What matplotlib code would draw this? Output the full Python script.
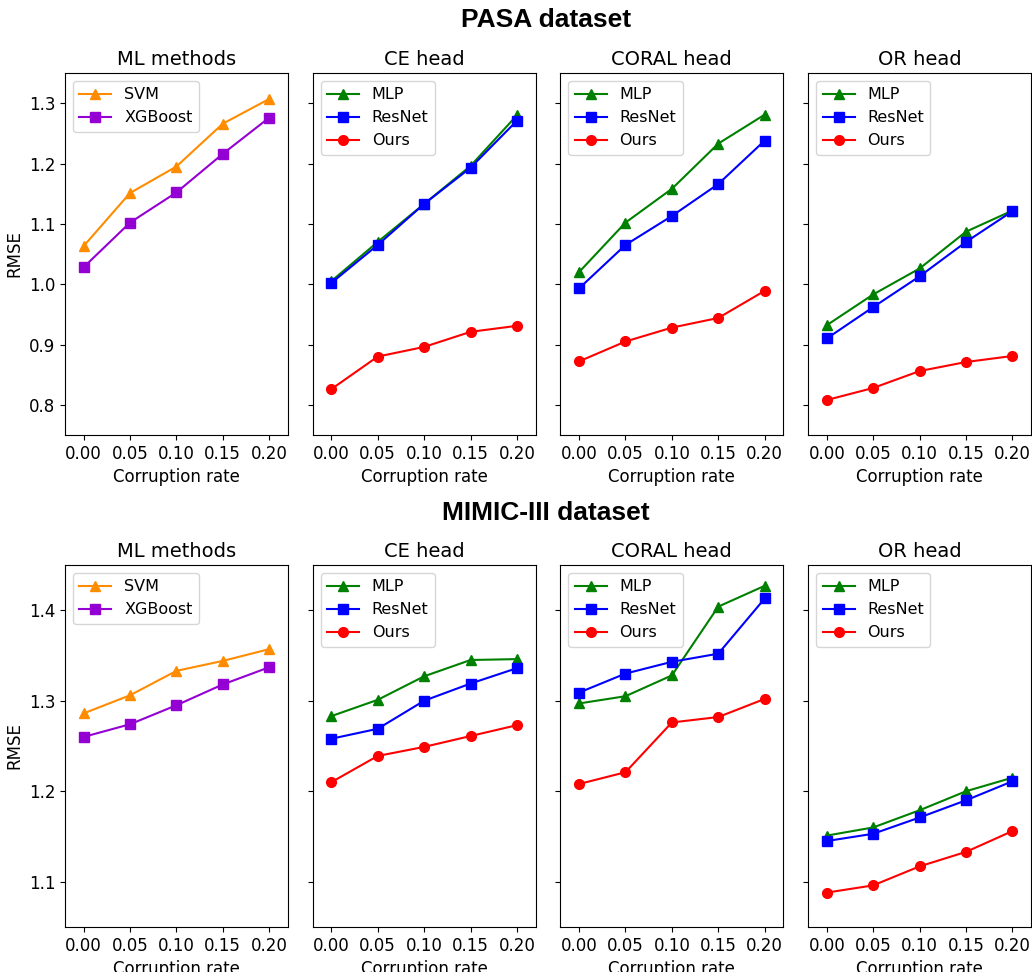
import matplotlib
matplotlib.use('Agg')
import matplotlib.pyplot as plt

rates = [0.00, 0.05, 0.10, 0.15, 0.20]
panel_titles = ['ML methods', 'CE head', 'CORAL head', 'OR head']

# PASA dataset
pasa_svm = [1.063, 1.151, 1.195, 1.266, 1.307]
pasa_xgb = [1.028, 1.102, 1.152, 1.216, 1.276]
pasa_ce_mlp = [1.005, 1.070, 1.133, 1.196, 1.280]
pasa_ce_resnet = [1.002, 1.065, 1.133, 1.193, 1.271]
pasa_ce_ours = [0.826, 0.880, 0.896, 0.921, 0.931]
pasa_coral_mlp = [1.020, 1.102, 1.158, 1.233, 1.281]
pasa_coral_resnet = [0.993, 1.065, 1.113, 1.166, 1.238]
pasa_coral_ours = [0.872, 0.905, 0.928, 0.944, 0.989]
pasa_or_mlp = [0.932, 0.983, 1.026, 1.087, 1.122]
pasa_or_resnet = [0.910, 0.962, 1.013, 1.070, 1.121]
pasa_or_ours = [0.808, 0.828, 0.856, 0.871, 0.881]

# MIMIC-III dataset
mimic_svm = [1.286, 1.306, 1.333, 1.344, 1.357]
mimic_xgb = [1.260, 1.274, 1.295, 1.318, 1.337]
mimic_ce_mlp = [1.283, 1.301, 1.327, 1.345, 1.346]
mimic_ce_resnet = [1.258, 1.269, 1.300, 1.319, 1.336]
mimic_ce_ours = [1.210, 1.239, 1.249, 1.261, 1.273]
mimic_coral_mlp = [1.297, 1.305, 1.328, 1.404, 1.427]
mimic_coral_resnet = [1.309, 1.330, 1.343, 1.352, 1.413]
mimic_coral_ours = [1.208, 1.221, 1.276, 1.282, 1.302]
mimic_or_mlp = [1.151, 1.160, 1.179, 1.200, 1.215]
mimic_or_resnet = [1.145, 1.153, 1.171, 1.190, 1.211]
mimic_or_ours = [1.088, 1.096, 1.117, 1.133, 1.156]

ml_style = [('SVM', 'darkorange', '^'), ('XGBoost', 'darkviolet', 's')]
nn_style = [('MLP', 'green', '^'), ('ResNet', 'blue', 's'), ('Ours', 'red', 'o')]

rows = [
    [[pasa_svm, pasa_xgb],
     [pasa_ce_mlp, pasa_ce_resnet, pasa_ce_ours],
     [pasa_coral_mlp, pasa_coral_resnet, pasa_coral_ours],
     [pasa_or_mlp, pasa_or_resnet, pasa_or_ours]],
    [[mimic_svm, mimic_xgb],
     [mimic_ce_mlp, mimic_ce_resnet, mimic_ce_ours],
     [mimic_coral_mlp, mimic_coral_resnet, mimic_coral_ours],
     [mimic_or_mlp, mimic_or_resnet, mimic_or_ours]],
]
ylims = [(0.75, 1.35), (1.05, 1.45)]
yticks = [[0.8, 0.9, 1.0, 1.1, 1.2, 1.3], [1.1, 1.2, 1.3, 1.4]]
row_titles = ['PASA dataset', 'MIMIC-III dataset']

fig, axes = plt.subplots(2, 4, figsize=(10.32, 9.72), dpi=100, sharey='row')
fig.subplots_adjust(left=65/1032, right=1031/1032, top=1-73/972,
                    bottom=1-927/972, wspace=0.112, hspace=0.359)

for r in range(2):
    for c in range(4):
        ax = axes[r][c]
        styles = ml_style if c == 0 else nn_style
        for series, (name, color, marker) in zip(rows[r][c], styles):
            ax.plot(rates, series, color=color, marker=marker, markersize=7,
                    linewidth=1.5, label=name)
        ax.set_title(panel_titles[c], fontsize=14)
        ax.set_xticks(rates)
        ax.set_xticklabels(['%.2f' % v for v in rates])
        ax.set_xlim(-0.02, 0.22)
        ax.set_xlabel('Corruption rate', fontsize=12)
        ax.set_ylim(*ylims[r])
        ax.set_yticks(yticks[r])
        ax.tick_params(labelsize=12)
        ax.legend(loc='upper left', fontsize=11.5)
        if c == 0:
            ax.set_ylabel('RMSE', fontsize=12)

fig.text(546/1032, 1-20/972, row_titles[0], ha='center', va='center',
         fontsize=19, fontweight='bold', family='Liberation Sans')
fig.text(546/1032, 1-513/972, row_titles[1], ha='center', va='center',
         fontsize=19, fontweight='bold', family='Liberation Sans')

fig.savefig('out.png', dpi=100)
